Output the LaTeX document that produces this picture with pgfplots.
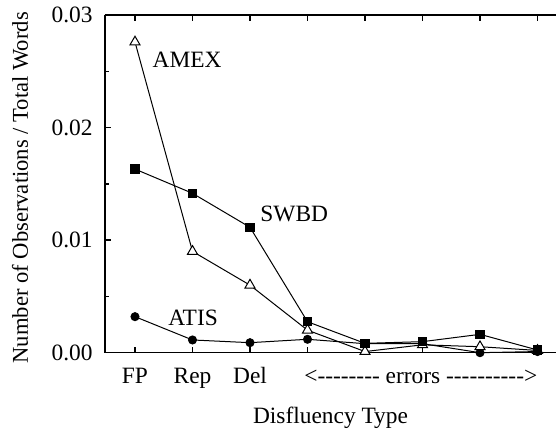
\documentclass[border=0pt]{standalone}
\usepackage{fontspec}
\setmainfont{Liberation Serif}[Ligatures=TeXOff]
\usepackage{pgfplots}
\pgfplotsset{compat=1.18}
\usetikzlibrary{calc}

\begin{document}
\fontsize{11.7}{13.5}\selectfont
\begin{tikzpicture}
\begin{axis}[
  name=ax,
  scale only axis,
  width=225.5pt, height=168.85pt,
  xmin=-0.5217, xmax=7.3217,
  ymin=0, ymax=0.03,
  clip=false,
  axis x line*=box, axis y line*=left,
  axis line style={line width=0.75pt},
  xtick={0,...,7},
  xticklabels={FP,Rep,Del,,,,,},
  xtick pos=both, ytick pos=left,
  tick align=inside,
  major tick length=3pt, minor tick length=1.8pt,
  ytick={0,0.01,0.02,0.03},
  minor ytick={0.005,0.015,0.025},
  scaled y ticks=false,
  yticklabel style={/pgf/number format/fixed, /pgf/number format/fixed zerofill,
    /pgf/number format/precision=2, anchor=east, inner sep=0pt, xshift=-6pt},
  /pgf/number format/assume math mode=true,
  xticklabel style={anchor=base, inner sep=0pt, yshift=-15.3pt},
  tick style={black, line width=0.7pt},
  ticklabel style={font=\fontsize{11.7}{13.5}\selectfont},
  every axis plot/.append style={black, line width=0.5pt},
]
\addplot[mark=*, mark size=2pt] coordinates {
  (0,0.0032) (1,0.00113) (2,0.00089) (3,0.00119) (4,0.0008) (5,0.0008) (6,0.0000) (7,0.0001)};
\addplot[mark=triangle*, mark size=2.9pt, mark options={fill=white}] coordinates {
  (0,0.0276) (1,0.0090) (2,0.0060) (3,0.0020) (4,0.0001) (5,0.0007) (6,0.00053) (7,0.0002)};
\addplot[mark=square*, mark size=2.1pt] coordinates {
  (0,0.01631) (1,0.01416) (2,0.01114) (3,0.00275) (4,0.00083) (5,0.00098) (6,0.00163) (7,0.00024)};
\node[anchor=base west, inner sep=0pt] at (axis cs:0.30,0.02537) {AMEX};
\node[anchor=base west, inner sep=0pt] at (axis cs:2.174,0.01165) {SWBD};
\node[anchor=base west, inner sep=0pt] at (axis cs:0.574,0.0024) {ATIS};
\node[anchor=base, inner sep=0pt, yshift=-15.3pt] at (axis cs:4.97,0) {<-------- errors ---------->};
\end{axis}
\node[rotate=90, anchor=base, inner sep=0pt, font=\fontsize{11.3}{13}\selectfont]
  at ($(ax.west)+(-38.5pt,-2pt)$) {Number of Observations / Total Words};
\node[anchor=base, inner sep=0pt] at ($(ax.south)+(0,-35.65pt)$) {Disfluency Type};
\pgfresetboundingbox
\path[use as bounding box] ($(ax.south west)+(-52.5pt,-38.65pt)$) rectangle ($(ax.north east)+(0pt,7.5pt)$);
\end{tikzpicture}
\end{document}
